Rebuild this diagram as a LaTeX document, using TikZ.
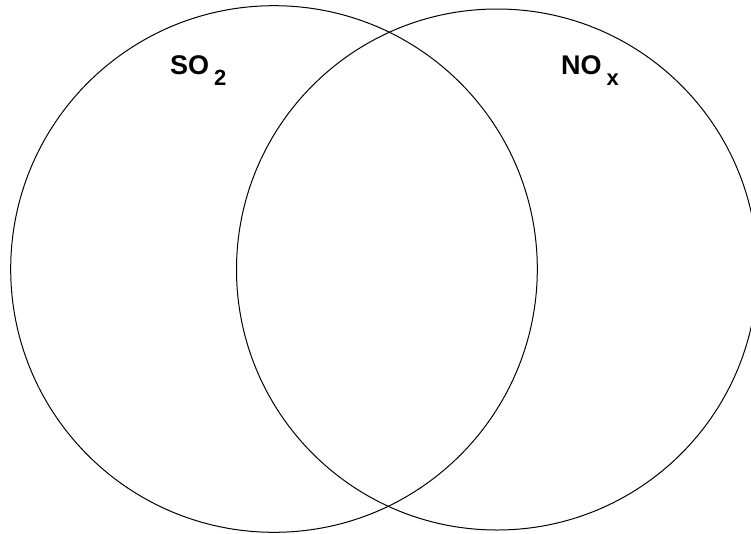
\documentclass[tikz,border=0pt]{standalone}
\usepackage{fontspec}
\setmainfont{Liberation Sans}
\tikzset{
  venn/.style={draw=black, line width=1pt},
  lbl/.style={font=\fontsize{27}{27}\selectfont\bfseries, inner sep=0pt, anchor=base west},
}
\newcommand{\mysub}[1]{\raisebox{-11pt}{\fontsize{22}{22}\selectfont\bfseries #1}}
\begin{document}
\begin{tikzpicture}[x=1pt,y=-1pt]
\useasboundingbox (0,0) rectangle (751,533);
\draw[venn] (274,269) circle[radius=263.3];
\draw[venn] (497,269.5) circle[radius=260.5];
\node[lbl] (so2) at (170,74) {SO\hspace{5pt}\mysub{2}};
\node[lbl] (nox) at (561,74) {NO\hspace{5pt}\mysub{x}};
\end{tikzpicture}
\end{document}
